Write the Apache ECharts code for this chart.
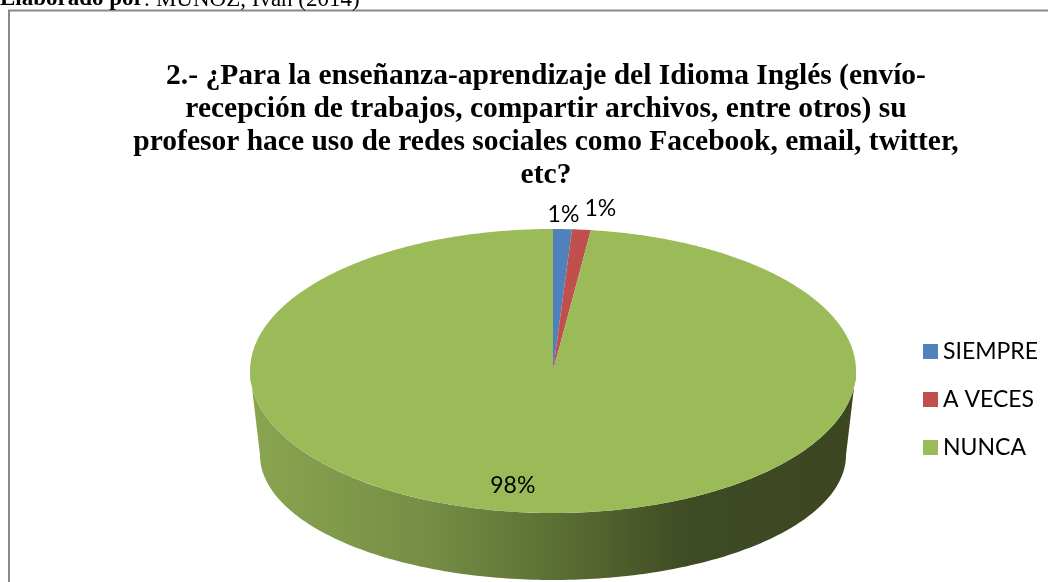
<!DOCTYPE html>
<html>
<head>
<meta charset="utf-8">
<script src="https://cdn.jsdelivr.net/npm/echarts@6/dist/echarts.min.js"></script>
<style>
html,body{margin:0;padding:0;background:#fff;}
#chart{width:1048px;height:582px;}
</style>
</head>
<body>
<div id="chart"></div>
<script>
// ---- data ----
const categories = ['SIEMPRE', 'A VECES', 'NUNCA'];
const values = [1, 1, 98];
const titleLines = [
  '2.- ¿Para la enseñanza-aprendizaje del Idioma Inglés (envío-',
  'recepción de trabajos, compartir archivos, entre otros) su',
  'profesor hace uso de redes sociales como Facebook, email, twitter,',
  'etc?'
];
const sourceNote = 'Elaborado por';
const sourceRest = ': MUÑOZ, Iván (2014)';

// ---- style / layout ----
const colors = ['#4f81bd', '#c0504d', '#9bbb59'];
const geo = { cx: 553, cy: 371, rx: 303, ry: 142, cyB: 455, rxB: 293, ryB: 125 };
const total = values.reduce((a, b) => a + b, 0);

function pt(theta, cx, cy, rx, ry) {
  const r = theta * Math.PI / 180;
  return [cx + rx * Math.sin(r), cy - ry * Math.cos(r)];
}
function sliceAngles(i) {
  let s = 0;
  for (let k = 0; k < i; k++) s += values[k];
  const a0 = s / total * 360;
  const a1 = (s + values[i]) / total * 360;
  return [a0, a1];
}
function labelText(i) { return Math.round(values[i] / total * 100) + '%'; }

// label placement (outside for small slices, with overlap nudging)
function labelPositions() {
  const out = [];
  const placed = [];
  for (let i = 0; i < values.length; i++) {
    const [a0, a1] = sliceAngles(i);
    const mid = (a0 + a1) / 2;
    const pct = values[i] / total;
    const w = labelText(i).length * 13;
    let p;
    if (pct < 0.05) {
      p = pt(mid, geo.cx, geo.cy, geo.rx * 1.1, geo.ry * 1.1);
      let guard = 0;
      while (placed.some(b => p[0] - w / 2 < b.r + 10 && p[0] + w / 2 > b.l - 10 && Math.abs(p[1] - b.y) < 20) && guard < 200) {
        p = [p[0] + 1, p[1] - 0.45];
        guard++;
      }
      placed.push({ l: p[0] - w / 2, r: p[0] + w / 2, y: p[1] });
    } else {
      p = pt(mid, geo.cx, geo.cy, geo.rx * 0.8, geo.ry * 0.8);
      p = [p[0] - 25, p[1] + 1];
    }
    out.push(p);
  }
  return out;
}

function makeRender(i) {
  return function (params, api) {
    const [a0, a1] = sliceAngles(i);
    const children = [];
    // front side wall
    const s = Math.max(a0, 90), e = Math.min(a1, 270);
    if (s < e) {
      const pts = [];
      for (let t = s; t <= e; t += 1) pts.push(pt(t, geo.cx, geo.cy, geo.rx, geo.ry));
      pts.push(pt(e, geo.cx, geo.cy, geo.rx, geo.ry));
      pts.push(pt(e, geo.cx, geo.cyB, geo.rxB, geo.ryB));
      for (let t = e; t >= s; t -= 1) pts.push(pt(t, geo.cx, geo.cyB, geo.rxB, geo.ryB));
      pts.push(pt(s, geo.cx, geo.cyB, geo.rxB, geo.ryB));
      const grad = i === 2
        ? new echarts.graphic.LinearGradient(geo.cx - geo.rx, 0, geo.cx + geo.rx, 0, [
            { offset: 0, color: '#8aa550' },
            { offset: 0.3, color: '#758d45' },
            { offset: 0.55, color: '#56682f' },
            { offset: 0.72, color: '#3f4b24' },
            { offset: 1, color: '#3c4721' }
          ], true)
        : api.visual('color');
      children.push({ type: 'polygon', shape: { points: pts }, style: { fill: grad }, silent: true });
    }
    // top face
    const top = [[geo.cx, geo.cy]];
    for (let t = a0; t <= a1; t += 0.5) top.push(pt(t, geo.cx, geo.cy, geo.rx, geo.ry));
    top.push(pt(a1, geo.cx, geo.cy, geo.rx, geo.ry));
    children.push({ type: 'polygon', shape: { points: top }, style: { fill: colors[i] } });
    // label
    const lp = labelPositions()[i];
    children.push({
      type: 'text', x: lp[0], y: lp[1], z2: 10,
      style: { text: labelText(i), fill: '#000', font: '23px Lato', align: 'center', verticalAlign: 'middle' }
    });
    return { type: 'group', children };
  };
}

const chart = echarts.init(document.getElementById('chart'), null, { renderer: 'canvas' });
chart.setOption({
  backgroundColor: '#fff',
  animation: false,
  title: {
    text: titleLines.join('\n'),
    left: 541, top: 55, textAlign: 'center',
    textStyle: { fontFamily: 'Liberation Serif', fontWeight: 'bold', fontSize: 29.5, lineHeight: 33, color: '#000' }
  },
  legend: {
    data: categories, orient: 'vertical', left: 918, top: 335,
    icon: 'rect', itemWidth: 15, itemHeight: 15, itemGap: 25,
    textStyle: { fontFamily: 'Lato', fontSize: 23, lineHeight: 23, color: '#000' }
  },
  graphic: [
    { type: 'rect', shape: { x: 9, y: 10.5, width: 1200, height: 800 }, style: { fill: 'none', stroke: '#8a8a8a', lineWidth: 2 }, silent: true, z: 0 },
    {
      type: 'text', x: 0, y: -12, silent: true,
      style: {
        text: '{b|' + sourceNote + '}' + sourceRest,
        font: '23px Liberation Serif', fill: '#000', verticalAlign: 'top',
        rich: { b: { fontWeight: 'bold', fontFamily: 'Liberation Serif', fontSize: 23 } }
      }
    }
  ],
  series: categories.map((name, i) => ({
    type: 'custom', name, coordinateSystem: 'none',
    data: [values[i]],
    itemStyle: { color: colors[i] },
    renderItem: makeRender(i)
  }))
});
</script>
</body>
</html>
